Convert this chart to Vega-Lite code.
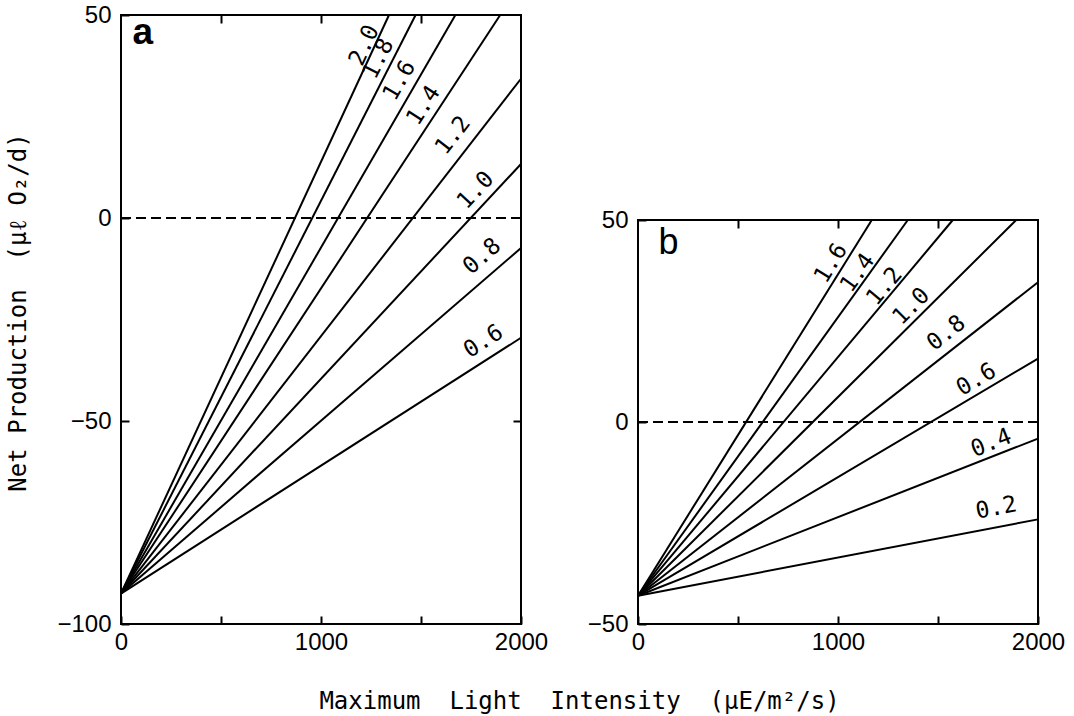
{
  "$schema": "https://vega.github.io/schema/vega-lite/v6.json",
  "background": "white",
  "padding": {"left": 5, "top": 2, "right": 5, "bottom": 5},
  "config": {
    "view": {"stroke": "black", "strokeWidth": 2},
    "axis": {
      "labelFont": "Liberation Sans", "labelFontSize": 24, "labelColor": "black",
      "tickColor": "black", "tickWidth": 2,
      "titleFont": "DejaVu Sans Mono", "titleFontSize": 24, "titleFontWeight": "normal", "titleColor": "black",
      "grid": false, "domain": false, "labelFlush": false, "labelOverlap": false
    }
  },
  "datasets": {
    "linesA": [
      {"k": "2.0", "x": 0, "y": -92.5}, {"k": "2.0", "x": 1340, "y": 50},
      {"k": "1.8", "x": 0, "y": -92.5}, {"k": "1.8", "x": 1473, "y": 50},
      {"k": "1.6", "x": 0, "y": -92.5}, {"k": "1.6", "x": 1672, "y": 50},
      {"k": "1.4", "x": 0, "y": -92.5}, {"k": "1.4", "x": 1896, "y": 50},
      {"k": "1.2", "x": 0, "y": -92.5}, {"k": "1.2", "x": 2000, "y": 34.3},
      {"k": "1.0", "x": 0, "y": -92.5}, {"k": "1.0", "x": 2000, "y": 13.3},
      {"k": "0.8", "x": 0, "y": -92.5}, {"k": "0.8", "x": 2000, "y": -7.4},
      {"k": "0.6", "x": 0, "y": -92.5}, {"k": "0.6", "x": 2000, "y": -29.5}
    ],
    "linesB": [
      {"k": "1.6", "x": 0, "y": -43}, {"k": "1.6", "x": 1169, "y": 50},
      {"k": "1.4", "x": 0, "y": -43}, {"k": "1.4", "x": 1349, "y": 50},
      {"k": "1.2", "x": 0, "y": -43}, {"k": "1.2", "x": 1574, "y": 50},
      {"k": "1.0", "x": 0, "y": -43}, {"k": "1.0", "x": 1891, "y": 50},
      {"k": "0.8", "x": 0, "y": -43}, {"k": "0.8", "x": 2000, "y": 34.6},
      {"k": "0.6", "x": 0, "y": -43}, {"k": "0.6", "x": 2000, "y": 15.7},
      {"k": "0.4", "x": 0, "y": -43}, {"k": "0.4", "x": 2000, "y": -4.1},
      {"k": "0.2", "x": 0, "y": -43}, {"k": "0.2", "x": 2000, "y": -24.1}
    ],
    "labelsA": [
      {"t": "2.0", "x": 1230, "y": 42.2, "s": 0.1063},
      {"t": "1.8", "x": 1300, "y": 38.9, "s": 0.0967},
      {"t": "1.6", "x": 1405, "y": 33.5, "s": 0.0852},
      {"t": "1.4", "x": 1525, "y": 27.3, "s": 0.0752},
      {"t": "1.2", "x": 1672, "y": 19.9, "s": 0.0634},
      {"t": "1.0", "x": 1784, "y": 6.3, "s": 0.0529},
      {"t": "0.8", "x": 1815, "y": -10, "s": 0.0426},
      {"t": "0.6", "x": 1820, "y": -31, "s": 0.0315}
    ],
    "labelsB": [
      {"t": "1.6", "x": 965, "y": 39.3, "s": 0.0796},
      {"t": "1.4", "x": 1098, "y": 36.9, "s": 0.0689},
      {"t": "1.2", "x": 1232, "y": 33.6, "s": 0.0591},
      {"t": "1.0", "x": 1366, "y": 28.6, "s": 0.0492},
      {"t": "0.8", "x": 1541, "y": 22.0, "s": 0.0388},
      {"t": "0.6", "x": 1691, "y": 10.5, "s": 0.0293},
      {"t": "0.4", "x": 1766, "y": -5.2, "s": 0.0195},
      {"t": "0.2", "x": 1791, "y": -21.3, "s": 0.0095}
    ]
  },
  "spacing": 117,
  "bounds": "flush",
  "hconcat": [
    {
      "width": 400,
      "height": 609,
      "resolve": {"axis": {"x": "independent", "y": "independent"}},
      "layer": [
        {
          "data": {"name": "linesA"},
          "mark": {"type": "line", "color": "black", "strokeWidth": 2},
          "encoding": {
            "x": {
              "field": "x", "type": "quantitative",
              "scale": {"domain": [0, 2000], "nice": false, "zero": false},
              "axis": {
                "orient": "bottom", "values": [0, 500, 1000, 1500, 2000], "format": "d",
                "labelExpr": "datum.value % 1000 === 0 ? datum.label : ''",
                "tickSize": -8, "labelPadding": 14,
                "title": "Maximum\u00a0 Light\u00a0 Intensity\u00a0 (μE/m²/s)",
                "titleX": 458, "titleY": 84, "titleAnchor": "middle", "titleAlign": "center", "titleBaseline": "alphabetic"
              }
            },
            "y": {
              "field": "y", "type": "quantitative",
              "scale": {"domain": [-100, 50], "nice": false, "zero": false},
              "axis": {
                "orient": "left", "values": [-100, -50, 0, 50], "format": "d",
                "tickSize": -8, "labelPadding": 18,
                "title": "Net Production\u00a0 (μℓ O₂/d)",
                "titleX": -96, "titleY": 297, "titleAngle": -90, "titleAlign": "center", "titleBaseline": "alphabetic"
              }
            },
            "detail": {"field": "k", "type": "nominal"}
          }
        },
        {
          "data": {"values": [{}]},
          "mark": {"type": "rule", "color": "black", "strokeWidth": 2, "strokeDash": [10, 5]},
          "encoding": {"y": {"datum": 0, "type": "quantitative", "axis": null}}
        },
        {
          "data": {"name": "labelsA"},
          "transform": [{"calculate": "-atan(datum.s * 20.3) * 180 / PI", "as": "ang"}],
          "mark": {"type": "text", "font": "DejaVu Sans Mono", "fontSize": 23, "color": "black", "align": "center", "baseline": "middle", "dy": -3},
          "encoding": {
            "x": {"field": "x", "type": "quantitative",
              "axis": {"orient": "top", "values": [500, 1000, 1500], "labels": false, "tickSize": -8, "title": null}},
            "y": {"field": "y", "type": "quantitative",
              "axis": {"orient": "right", "values": [-50], "labels": false, "tickSize": -8, "title": null}},
            "text": {"field": "t", "type": "nominal"},
            "angle": {"field": "ang", "type": "quantitative", "scale": null}
          }
        },
        {
          "data": {"values": [{"t": "a", "x": 58, "y": 42.8}]},
          "mark": {"type": "text", "font": "Liberation Sans", "fontSize": 37, "fontWeight": "bold", "color": "black", "align": "left", "baseline": "alphabetic"},
          "encoding": {
            "x": {"field": "x", "type": "quantitative", "axis": null},
            "y": {"field": "y", "type": "quantitative", "axis": null},
            "text": {"field": "t", "type": "nominal"}
          }
        }
      ]
    },
    {
      "spacing": 0,
      "bounds": "flush",
      "vconcat": [
        {
          "width": 400,
          "height": 205,
          "view": {"stroke": null},
          "data": {"values": [{}]},
          "mark": {"type": "point", "opacity": 0}
        },
        {
          "width": 400,
          "height": 404,
          "resolve": {"axis": {"x": "independent", "y": "independent"}},
          "layer": [
            {
              "data": {"name": "linesB"},
              "mark": {"type": "line", "color": "black", "strokeWidth": 2},
              "encoding": {
                "x": {
                  "field": "x", "type": "quantitative",
                  "scale": {"domain": [0, 2000], "nice": false, "zero": false},
                  "axis": {
                    "orient": "bottom", "values": [0, 500, 1000, 1500, 2000], "format": "d",
                    "labelExpr": "datum.value % 1000 === 0 ? datum.label : ''",
                    "tickSize": -8, "labelPadding": 14, "title": null
                  }
                },
                "y": {
                  "field": "y", "type": "quantitative",
                  "scale": {"domain": [-50, 50], "nice": false, "zero": false},
                  "axis": {
                    "orient": "left", "values": [-50, 0, 50], "format": "d",
                    "tickSize": -8, "labelPadding": 18, "title": null
                  }
                },
                "detail": {"field": "k", "type": "nominal"}
              }
            },
            {
              "data": {"values": [{}]},
              "mark": {"type": "rule", "color": "black", "strokeWidth": 2, "strokeDash": [10, 5]},
              "encoding": {"y": {"datum": 0, "type": "quantitative", "axis": null}}
            },
            {
              "data": {"name": "labelsB"},
              "transform": [{"calculate": "-atan(datum.s * 20.2) * 180 / PI", "as": "ang"}],
              "mark": {"type": "text", "font": "DejaVu Sans Mono", "fontSize": 23, "color": "black", "align": "center", "baseline": "middle"},
              "encoding": {
                "x": {"field": "x", "type": "quantitative",
                  "axis": {"orient": "top", "values": [500, 1000, 1500], "labels": false, "tickSize": -8, "title": null}},
                "y": {"field": "y", "type": "quantitative", "axis": null},
                "text": {"field": "t", "type": "nominal"},
                "angle": {"field": "ang", "type": "quantitative", "scale": null}
              }
            },
            {
              "data": {"values": [{"t": "b", "x": 102, "y": 41.5}]},
              "mark": {"type": "text", "font": "Liberation Sans", "fontSize": 36, "color": "black", "align": "left", "baseline": "alphabetic"},
              "encoding": {
                "x": {"field": "x", "type": "quantitative", "axis": null},
                "y": {"field": "y", "type": "quantitative", "axis": null},
                "text": {"field": "t", "type": "nominal"}
              }
            }
          ]
        }
      ]
    }
  ]
}
